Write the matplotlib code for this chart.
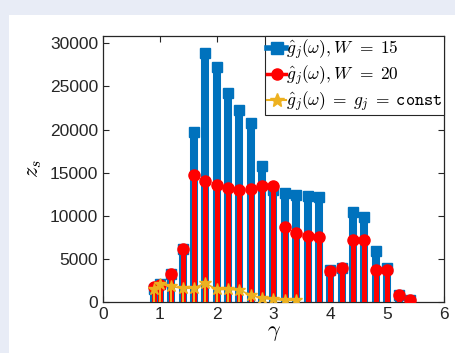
"""
Stem plot of z_s versus gamma for three choices of the weight function g_j(omega).
"""
import matplotlib
matplotlib.use('Agg')
import matplotlib.pyplot as plt
from matplotlib.lines import Line2D
from matplotlib.legend_handler import HandlerLine2D
from matplotlib.patches import Rectangle

plt.rcParams['font.family'] = ['Liberation Sans', 'DejaVu Sans']
plt.rcParams['mathtext.fontset'] = 'cm'

# data
gamma = [0.9, 1.0, 1.2, 1.4, 1.6, 1.8, 2.0, 2.2, 2.4, 2.6, 2.8, 3.0, 3.2, 3.4,
         3.6, 3.8, 4.0, 4.2, 4.4, 4.6, 4.8, 5.0, 5.2, 5.4]
z_w15 = [1500, 2100, 3300, 6200, 19700, 28900, 27200, 24200, 22300, 20800, 15800, 13000,
         12600, 12400, 12300, 12200, 3700, 4000, 10400, 9900, 5900, 3900, 800, 200]
z_w20 = [1700, 2000, 3200, 6100, 14700, 14000, 13550, 13200, 13000, 13050, 13400, 13400,
         8700, 8000, 7700, 7500, 3600, 3900, 7200, 7200, 3700, 3700, 800, 200]
gamma_const = [0.9, 1.0, 1.2, 1.4, 1.6, 1.8, 2.0, 2.2, 2.4, 2.6, 2.8, 3.0, 3.2, 3.4]
z_const = [1500, 2100, 1800, 1600, 1600, 2200, 1450, 1450, 1400, 800, 430, 300, 200, 200]

labels = [r'$\hat{g}_j(\omega), W\;\,{=}\;15$',
          r'$\hat{g}_j(\omega), W\;\,{=}\;20$',
          r'$\hat{g}_j(\omega)\;{=}\;g_j\;{=}\;\mathtt{const}$']

BLUE = '#0072BD'
RED = '#FF0000'
YELLOW = '#EDB120'


class HandlerMarkerRight(HandlerLine2D):
    """MATLAB-like stem legend entry: line with the marker at its right end."""
    def get_xdata(self, legend, xdescent, ydescent, width, height, fontsize):
        xdata = [-xdescent, width - xdescent]
        return xdata, [width - xdescent]


fig = plt.figure(figsize=(4.56, 3.53), dpi=100)
fig.patch.set_facecolor('#e8ecf6')
fig.patches.append(Rectangle((9 / 456, 0), 1, 1 - 15 / 353, transform=fig.transFigure,
                             facecolor='white', edgecolor='none', zorder=-5))

ax = fig.add_axes([103 / 456, 51 / 353, 341 / 456, 266 / 353])
ax.set_zorder(2)

ax.vlines(gamma, 0, z_w15, color=BLUE, linewidth=5.8, zorder=2)
ax.plot(gamma, z_w15, 's', color=BLUE, markersize=7.5, zorder=2)

ax.vlines(gamma, 0, z_w20, color=RED, linewidth=3.6, zorder=3)
ax.plot(gamma, z_w20, 'o', color=RED, markersize=8, zorder=3)

ax.vlines(gamma_const, 0, z_const, color=YELLOW, linewidth=1.5, zorder=4)
ax.plot(gamma_const, z_const, '-*', color=YELLOW, markersize=9, linewidth=1.2, zorder=4)

ax.set_xlim(0, 6)
ax.set_ylim(0, 30850)
ax.set_xticks(range(0, 7))
ax.set_yticks(range(0, 30001, 5000))
ax.tick_params(direction='in', top=True, right=True, labelsize=12.5,
               colors='#262626', length=4, width=0.8)
for s in ax.spines.values():
    s.set_color('#262626')
    s.set_linewidth(0.9)

ax.set_xlabel(r'$\gamma$', fontsize=16, labelpad=0)
ax.set_ylabel(r'$z_s$', fontsize=16, labelpad=4)

handles = [Line2D([], [], color=BLUE, linewidth=4, marker='s', markersize=8),
           Line2D([], [], color=RED, linewidth=2.5, marker='o', markersize=8),
           Line2D([], [], color=YELLOW, linewidth=1.5, marker='*', markersize=10)]
leg = ax.legend(handles, labels, loc='upper right', fontsize=12.5, handlelength=1.1,
                handletextpad=0.0, borderpad=0.1, labelspacing=0.1,
                borderaxespad=0.0, fancybox=False, framealpha=1,
                handler_map={Line2D: HandlerMarkerRight()})
leg.get_frame().set_edgecolor('#262626')
leg.get_frame().set_linewidth(0.8)

plt.savefig('out.png', dpi=100, facecolor=fig.get_facecolor())
